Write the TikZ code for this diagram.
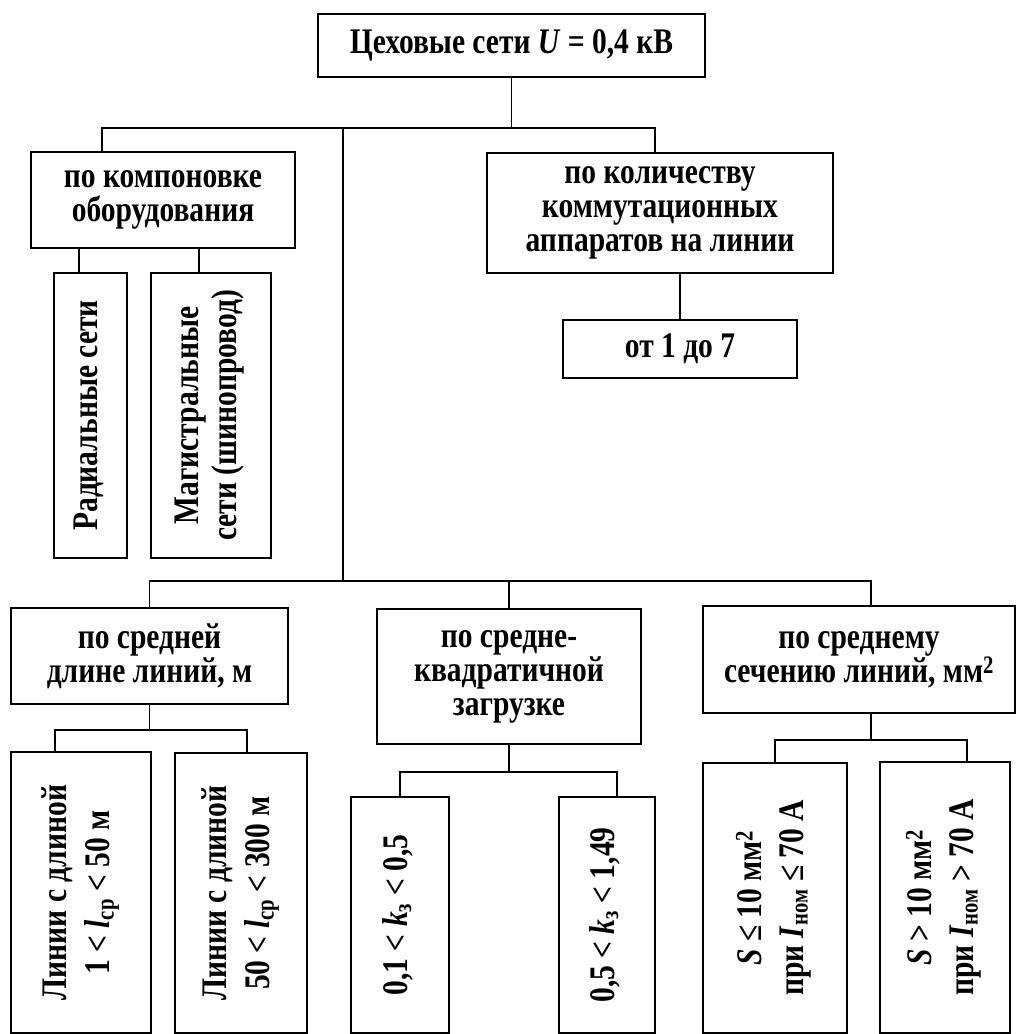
\documentclass[tikz,border=0pt]{standalone}
\usepackage{fontspec}
\setmainfont{Liberation Serif}[FakeStretch=0.82]
\usepackage{graphicx}
\newcommand{\vtext}[1]{\rotatebox{90}{\begin{tabular}{@{}c@{}}#1\end{tabular}}}

\begin{document}
\begin{tikzpicture}[x=1pt,y=-1pt,
  box/.style={draw,line width=1.6pt,inner sep=0pt,align=center,
    font=\fontsize{36}{34}\selectfont\bfseries},
  wh/.style 2 args={minimum width=#1pt,minimum height=#2pt},
  link/.style={draw,line width=1.6pt}]
\useasboundingbox (0,0) rectangle (1016,1034);
% Root
\node[box,wh={387}{63}] (root) at (511.5,45.5) {Цеховые сети \textit{U} = 0,4 кВ};
% First level
\node[box,wh={264}{96}] (comp) at (163,200) {по компоновке\\оборудования};
\node[box,wh={346}{120}] (count) at (660,213) {по количеству\\коммутационных\\аппаратов на линии};
\node[box,wh={73}{285}] (radial) at (90.5,415.5) {\vtext{Радиальные сети}};
\node[box,wh={120}{285}] (magist) at (211,415.5) {\vtext{Магистральные\\[3pt]сети (шинопровод)}};
\node[box,wh={234}{58}] (r17) at (680,349) {от 1 до 7};
% Second level
\node[box,wh={277}{96}] (len) at (149.5,656) {по средней\\длине линий, м};
\node[box,wh={264}{135}] (load) at (509,676.5) {по средне-\\квадратичной\\загрузке};
\node[box,wh={312}{107}] (sect) at (859,659.5) {по среднему\\сечению линий, мм\textsuperscript{2}};
% Leaves
\node[box,wh={140}{281}] (len1) at (81,892.5) {\vtext{Линии с длиной\\[8pt]1 < \textit{l}\textsubscript{ср} < 50 м}};
\node[box,wh={132}{280}] (len2) at (241,893) {\vtext{Линии с длиной\\[8pt]50 < \textit{l}\textsubscript{ср} < 300 м}};
\node[box,wh={98}{236}] (k1) at (400,915) {\vtext{0,1 < \textit{k}\textsubscript{з} < 0,5}};
\node[box,wh={96}{236}] (k2) at (607,915) {\vtext{0,5 < \textit{k}\textsubscript{з} < 1,49}};
\node[box,wh={144}{270}] (s1) at (775,898) {\vtext{\textit{S} ≤ 10 мм\textsuperscript{2}\\[8pt]при \textit{I}\textsubscript{ном} ≤ 70 А}};
\node[box,wh={130}{271}] (s2) at (945,897.5) {\vtext{\textit{S} > 10 мм\textsuperscript{2}\\[8pt]при \textit{I}\textsubscript{ном} > 70 А}};
% Top bus and trunk
\draw[link] (root.south) -- ++(0,50) coordinate (rj);
\draw[link] ([xshift=-61pt]comp.north) |- (rj) -| ([xshift=-5pt]count.north);
\coordinate (tr) at (343,127);
\draw[link] (len.north) -- ++(0,-26) coordinate (lb) -| ([xshift=12pt]sect.north);
\draw[link] (load.north) -- (load.north |- lb);
\draw[link] (tr) -- (tr |- lb);
% Branches
\draw[link] ([xshift=-11.5pt]radial.north) -- ([xshift=-11.5pt]radial.north |- comp.south);
\draw[link] ([xshift=-12pt]magist.north) -- ([xshift=-12pt]magist.north |- comp.south);
\draw[link] (r17.north) -- (r17.north |- count.south);
\draw[link] (len.south) -- ++(0,25) coordinate (lj);
\draw[link] ([xshift=-26pt]len1.north) |- (lj) -| ([xshift=6pt]len2.north);
\draw[link] (load.south) -- ++(0,27) coordinate (kj);
\draw[link] (k1.north) |- (kj) -| ([xshift=10pt]k2.north);
\draw[link] ([xshift=12pt]sect.south) -- ++(0,26) coordinate (sj);
\draw[link] (s1.north) |- (sj) -| ([xshift=22pt]s2.north);
\end{tikzpicture}
\end{document}
